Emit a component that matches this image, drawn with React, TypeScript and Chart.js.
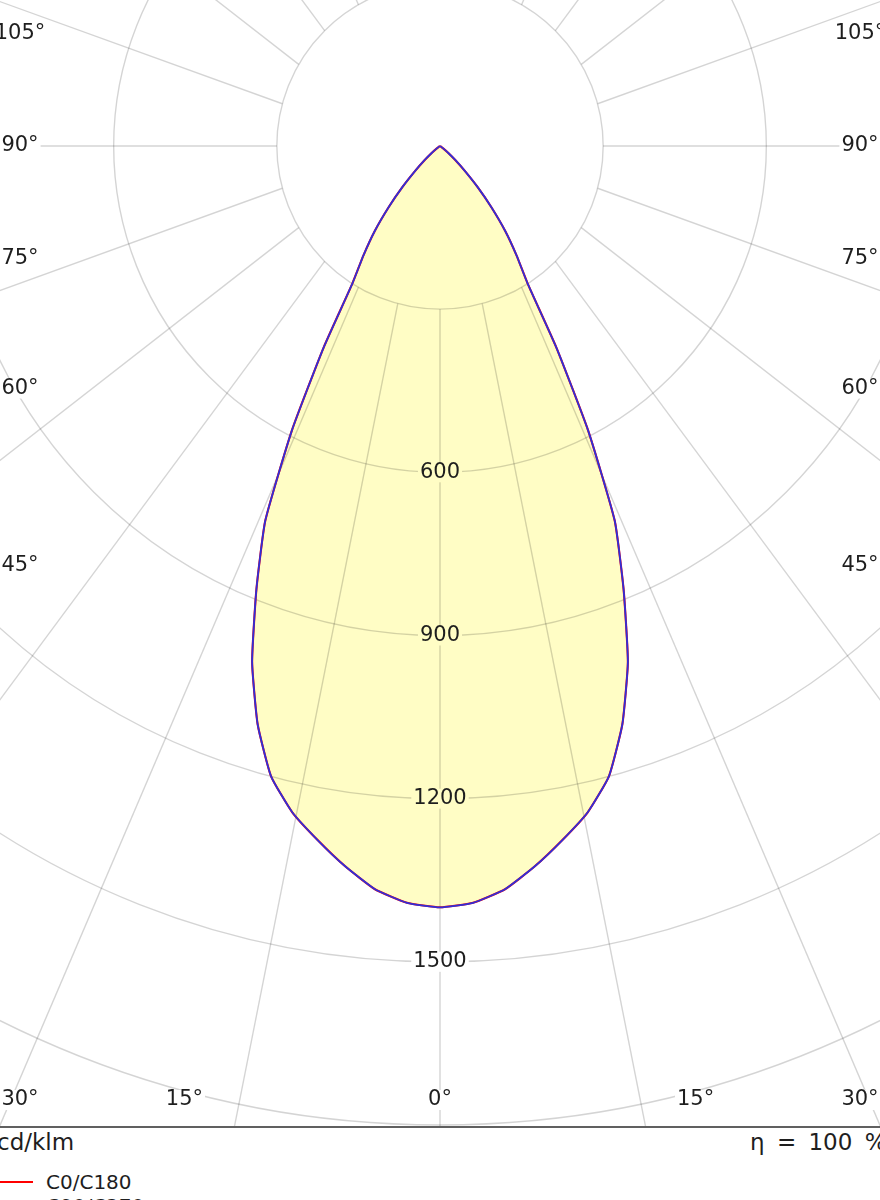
import React, { useEffect, useRef } from 'react';
import { Chart, registerables } from 'chart.js';

Chart.register(...registerables);

// gamma angle from nadir (deg) and luminous intensity (cd/klm)
const gammaAngles = [0, 2.5, 5, 7.5, 10, 12.5, 15, 17.5, 20, 22.5, 25, 27.5, 30, 32.5, 35, 37.5, 40, 42.5, 45, 47.5, 50, 52.5, 55, 57.5, 60, 70, 80, 90, 100, 110, 120, 130, 140, 150, 160, 170, 180];
const c0c180 = [1400, 1393, 1372, 1336, 1296, 1255, 1200, 1115, 1010, 882, 760, 590, 428, 300, 245, 197, 147, 102, 64, 38, 20, 8, 2, 0, 0, 0, 0, 0, 0, 0, 0, 0, 0, 0, 0, 0, 0];
const c90c270 = [1400, 1393, 1372, 1336, 1296, 1255, 1200, 1115, 1010, 882, 760, 590, 428, 300, 245, 197, 147, 102, 64, 38, 20, 8, 2, 0, 0, 0, 0, 0, 0, 0, 0, 0, 0, 0, 0, 0, 0];

const seriesNames = ['C0/C180', 'C90/C270'];
const seriesColors = ['#ff0000', '#2f2fd8'];

const radialTicks = [300, 600, 900, 1200, 1500, 1800];
const radialLabels = [600, 900, 1200, 1500];
const angleTicks = [0, 15, 30, 45, 60, 75, 90, 105, 120, 135, 150, 165, 180, 195, 210, 225, 240, 255, 270, 285, 300, 315, 330, 345];
const angleLabels = [0, 15, 30, 45, 60, 75, 90, 105];

const FILL = '#fffdc5';
const GRID = 'rgba(0,0,0,0.17)';
const FONT = '21px "DejaVu Sans"';
const TEXT = '#1e1e1e';

// left half (C180 / C270) from top to nadir, then right half back up
const polarToXY = (values: number[]) => {
  const pts: { x: number; y: number }[] = [];
  for (let i = gammaAngles.length - 1; i > 0; i--) {
    const t = (gammaAngles[i] * Math.PI) / 180;
    pts.push({ x: -values[i] * Math.sin(t), y: -values[i] * Math.cos(t) });
  }
  for (let i = 0; i < gammaAngles.length; i++) {
    const t = (gammaAngles[i] * Math.PI) / 180;
    pts.push({ x: values[i] * Math.sin(t), y: -values[i] * Math.cos(t) });
  }
  return pts;
};

const getCenter = (chart: Chart) => {
  const xs = chart.scales.x;
  const ys = chart.scales.y;
  const cx = xs.getPixelForValue(0);
  const cy = ys.getPixelForValue(0);
  const unit = xs.getPixelForValue(1000) - cx;
  return { cx, cy, rad: (v: number) => (v / 1000) * unit };
};

// grid goes over the fill, under the outlines
const polarGrid = {
  id: 'polarGrid',
  afterDatasetDraw(chart: Chart, args: any) {
    if (args.index !== 2) return;
    const { ctx, chartArea } = chart;
    const { cx, cy, rad } = getCenter(chart);
    ctx.save();
    ctx.beginPath();
    ctx.rect(chartArea.left, chartArea.top, chartArea.right - chartArea.left, chartArea.bottom - chartArea.top);
    ctx.clip();
    ctx.strokeStyle = GRID;
    ctx.lineWidth = 1.4;
    radialTicks.forEach(v => {
      ctx.beginPath();
      ctx.arc(cx, cy, rad(v), 0, Math.PI * 2);
      ctx.stroke();
    });
    const r0 = rad(radialTicks[0]);
    angleTicks.forEach(a => {
      const t = (a * Math.PI) / 180;
      const sx = cx + r0 * Math.sin(t);
      const sy = cy + r0 * Math.cos(t);
      let dx = Math.sin(t);
      let dy = 1.35 * Math.cos(t);
      const len = Math.hypot(dx, dy);
      dx /= len;
      dy /= len;
      ctx.beginPath();
      ctx.moveTo(sx, sy);
      ctx.lineTo(sx + dx * 3000, sy + dy * 3000);
      ctx.stroke();
    });
    ctx.restore();
  },
};

const boxedText = (ctx: CanvasRenderingContext2D, text: string, x: number, y: number, bg: string) => {
  const w = ctx.measureText(text).width;
  ctx.fillStyle = bg;
  ctx.fillRect(x - w / 2 - 2, y - 10, w + 4, 20);
  ctx.fillStyle = TEXT;
  ctx.fillText(text, x, y);
};

const polarLabels = {
  id: 'polarLabels',
  afterDraw(chart: Chart) {
    const { ctx, chartArea } = chart;
    const { cx, cy, rad } = getCenter(chart);
    ctx.save();
    ctx.font = FONT;
    ctx.textAlign = 'center';
    ctx.textBaseline = 'middle';
    radialLabels.forEach(v => {
      const inside = v < c0c180[0];
      boxedText(ctx, String(v), cx, cy + rad(v), inside ? FILL : '#ffffff');
    });
    const halfW = (chartArea.right - chartArea.left) / 2 - 20;
    const bottomY = chartArea.bottom - 27;
    angleLabels.forEach(a => {
      const t = (a * Math.PI) / 180;
      [-1, 1].forEach(side => {
        if (a === 0 && side === -1) return;
        let x: number;
        let y: number;
        if (a < 45) {
          const dx = Math.min(((bottomY - cy) * Math.sin(t)) / Math.cos(t), halfW);
          x = cx + side * dx;
          y = bottomY;
        } else {
          x = cx + side * halfW;
          y = cy + (halfW * Math.cos(t)) / Math.sin(t);
        }
        boxedText(ctx, `${a}°`, x, y, '#ffffff');
      });
    });
    ctx.restore();
  },
};

const App: React.FC = () => {
  const canvasRef = useRef<HTMLCanvasElement>(null);

  useEffect(() => {
    document.documentElement.style.overflow = 'hidden';
    if (!canvasRef.current) return;

    const chart = new Chart(canvasRef.current, {
      type: 'scatter',
      data: {
        datasets: [
          {
            label: seriesNames[1],
            data: polarToXY(c90c270),
            showLine: true,
            borderColor: seriesColors[1],
            borderWidth: 1.8,
            tension: 0.15,
            pointRadius: 0,
            fill: false,
            order: 1,
          },
          {
            label: seriesNames[0],
            data: polarToXY(c0c180),
            showLine: true,
            borderColor: seriesColors[0],
            borderWidth: 2.1,
            tension: 0.15,
            pointRadius: 0,
            fill: false,
            order: 2,
          },
          {
            label: 'area',
            data: polarToXY(c0c180),
            showLine: true,
            borderWidth: 0,
            borderColor: 'rgba(0,0,0,0)',
            backgroundColor: FILL,
            fill: 'shape',
            tension: 0.15,
            pointRadius: 0,
            order: 3,
          },
        ],
      },
      options: {
        animation: false,
        responsive: true,
        maintainAspectRatio: false,
        events: [],
        layout: { padding: 0 },
        scales: {
          x: { type: 'linear', min: -809, max: 809, display: false },
          y: { type: 'linear', min: -1804, max: 268.5, display: false },
        },
        plugins: {
          legend: { display: false },
          tooltip: { enabled: false },
        },
      },
      plugins: [polarGrid, polarLabels],
    });

    return () => {
      chart.destroy();
    };
  }, []);

  const textStyle: React.CSSProperties = {
    position: 'absolute',
    fontFamily: '"DejaVu Sans"',
    color: TEXT,
    whiteSpace: 'nowrap',
  };

  return (
    <div style={{ position: 'absolute', top: 0, left: 0, width: 880, height: 1200, overflow: 'hidden', background: '#fff' }}>
      <div style={{ position: 'absolute', top: 0, left: 0, width: 880, height: 1127 }}>
        <canvas ref={canvasRef} />
      </div>
      <div style={{ position: 'absolute', top: 1126, left: 0, width: 880, height: 2, background: '#606060' }} />
      <div style={{ ...textStyle, top: 1128, left: -3, fontSize: 23, lineHeight: '28px' }}>cd/klm</div>
      <div style={{ ...textStyle, top: 1128, left: 750, fontSize: 23, lineHeight: '28px', wordSpacing: 5 }}>η = 100 %</div>
      {seriesNames.map((name, i) => (
        <div key={name} style={{ position: 'absolute', top: 1170 + i * 24, left: 0, height: 24 }}>
          <div style={{ position: 'absolute', top: 11, left: 0, width: 33, height: 2, background: seriesColors[i] }} />
          <div style={{ ...textStyle, top: 0, left: 46, fontSize: 20, lineHeight: '24px' }}>{name}</div>
        </div>
      ))}
    </div>
  );
};

export default App;
